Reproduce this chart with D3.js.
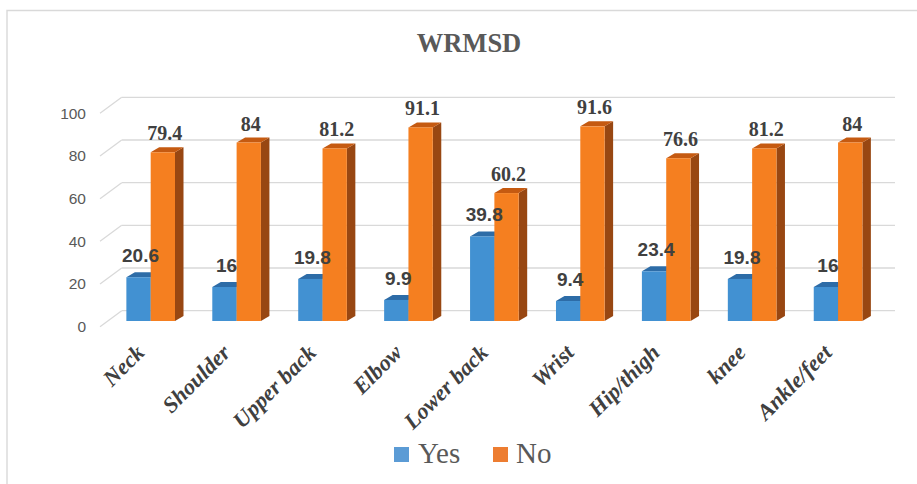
<!DOCTYPE html>
<html><head><meta charset="utf-8">
<script src="https://cdn.jsdelivr.net/npm/d3@7/dist/d3.min.js"></script>
<style>
body{margin:0;background:#fff}
.serif{font-family:'Liberation Serif','DejaVu Serif','Times New Roman',serif}
.sans{font-family:'Liberation Sans','DejaVu Sans',Arial,sans-serif}
</style>
</head><body>
<svg id="c" width="917" height="484"></svg>
<script>
const categories = ["Neck","Shoulder","Upper back","Elbow","Lower back","Wrist","Hip/thigh","knee","Ankle/feet"];
const yesValues = [20.6,16,19.8,9.9,39.8,9.4,23.4,19.8,16];
const noValues  = [79.4,84,81.2,91.1,60.2,91.6,76.6,81.2,84];
const yTicks = [0,20,40,60,80,100];
const seriesNames = ["Yes","No"];

const svg = d3.select("#c");

svg.append("path").attr("d","M7,484 L7,10.5 L917,10.5").attr("fill","none").attr("stroke","#D9D9D9").attr("stroke-width",1.4);

svg.append("text").attr("class","serif").attr("x",469).attr("y",52).attr("text-anchor","middle")
  .attr("font-weight","bold").attr("font-size",26.5).attr("fill","#595959").text("WRMSD");

const frontX = 100, dxD = 21.7, dyD = -16;
const wallW = 773.3;
const yWall = d3.scaleLinear().domain([0,100]).range([310.7,97.3]);
const yBar = d3.scaleLinear().domain([0,100]).range([321,108.5]);
const f = 0.356;
const x0 = d3.scaleBand().domain(categories).range([frontX + f*dxD, frontX + f*dxD + wallW]).paddingInner(0.434).paddingOuter(0.217);
const x1 = d3.scaleBand().domain(seriesNames).range([0, x0.bandwidth()]);
const bdx = 8.5, bdy = -5;

const g = svg.append("g");
yTicks.forEach(t => {
  const yb = yWall(t);
  g.append("line").attr("x1",frontX).attr("y1",yb - dyD).attr("x2",frontX+dxD).attr("y2",yb)
    .attr("stroke","#D9D9D9").attr("stroke-width",1.3);
  g.append("line").attr("x1",frontX+dxD).attr("y1",yb).attr("x2",frontX+dxD+wallW).attr("y2",yb)
    .attr("stroke","#D9D9D9").attr("stroke-width",1.3);
  g.append("text").attr("class","sans").attr("x",86).attr("y",yb - dyD).attr("dy","0.35em").attr("text-anchor","end")
    .attr("font-size",15.5).attr("fill","#595959").text(t);
});

const colors = {
  Yes: {front:"#4291D2", top:"#2D6CA7", side:"#2A5F92"},
  No:  {front:"#F57F20", top:"#C55A11", side:"#984712"}
};

const data = categories.map((c,i)=>({cat:c, Yes:yesValues[i], No:noValues[i]}));
const bars = svg.append("g");
data.forEach(d => {
  seriesNames.forEach(s => {
    const v = d[s];
    const xl = x0(d.cat) + x1(s), w = x1.bandwidth();
    const yt = yBar(v), yb = yBar(0);
    const c = colors[s];
    bars.append("path").attr("d",`M${xl+w},${yt} L${xl+w+bdx},${yt+bdy} L${xl+w+bdx},${yb+bdy} L${xl+w},${yb} Z`).attr("fill",c.side);
    bars.append("path").attr("d",`M${xl},${yt} L${xl+bdx},${yt+bdy} L${xl+w+bdx},${yt+bdy} L${xl+w},${yt} Z`).attr("fill",c.top);
    bars.append("rect").attr("x",xl).attr("y",yt).attr("width",w).attr("height",yb-yt).attr("fill",c.front);
  });
});

data.forEach(d => {
  const wb = x1.bandwidth();
  svg.append("text").attr("class","sans").attr("x", x0(d.cat)+x1("Yes")+wb/2+2).attr("y", yBar(d.Yes)-15)
    .attr("text-anchor","middle").attr("font-weight","bold")
    .attr("font-size",19).attr("fill","#404040").text(d.Yes);
  svg.append("text").attr("class","serif").attr("x", x0(d.cat)+x1("No")+wb/2+2).attr("y", yBar(d.No)-12)
    .attr("text-anchor","middle").attr("font-weight","bold")
    .attr("font-size",20).attr("fill","#404040").text(d.No);
});

categories.forEach(c => {
  const cx = x0(c) + x0.bandwidth()/2 - 5;
  svg.append("text").attr("class","serif").attr("transform",`translate(${cx},354) rotate(-45)`).attr("text-anchor","end")
    .attr("font-weight","bold").attr("font-style","italic")
    .attr("font-size",22.5).attr("fill","#404040").text(c);
});

const legend = [{n:"Yes",c:"#5B9BD5",x:394,tx:418},{n:"No",c:"#ED7D31",x:493,tx:516}];
legend.forEach(l => {
  svg.append("rect").attr("x",l.x).attr("y",447).attr("width",15).attr("height",15).attr("fill",l.c);
  svg.append("text").attr("class","serif").attr("x",l.tx).attr("y",463)
    .attr("font-size",29).attr("fill","#595959").text(l.n);
});
</script>
</body></html>
